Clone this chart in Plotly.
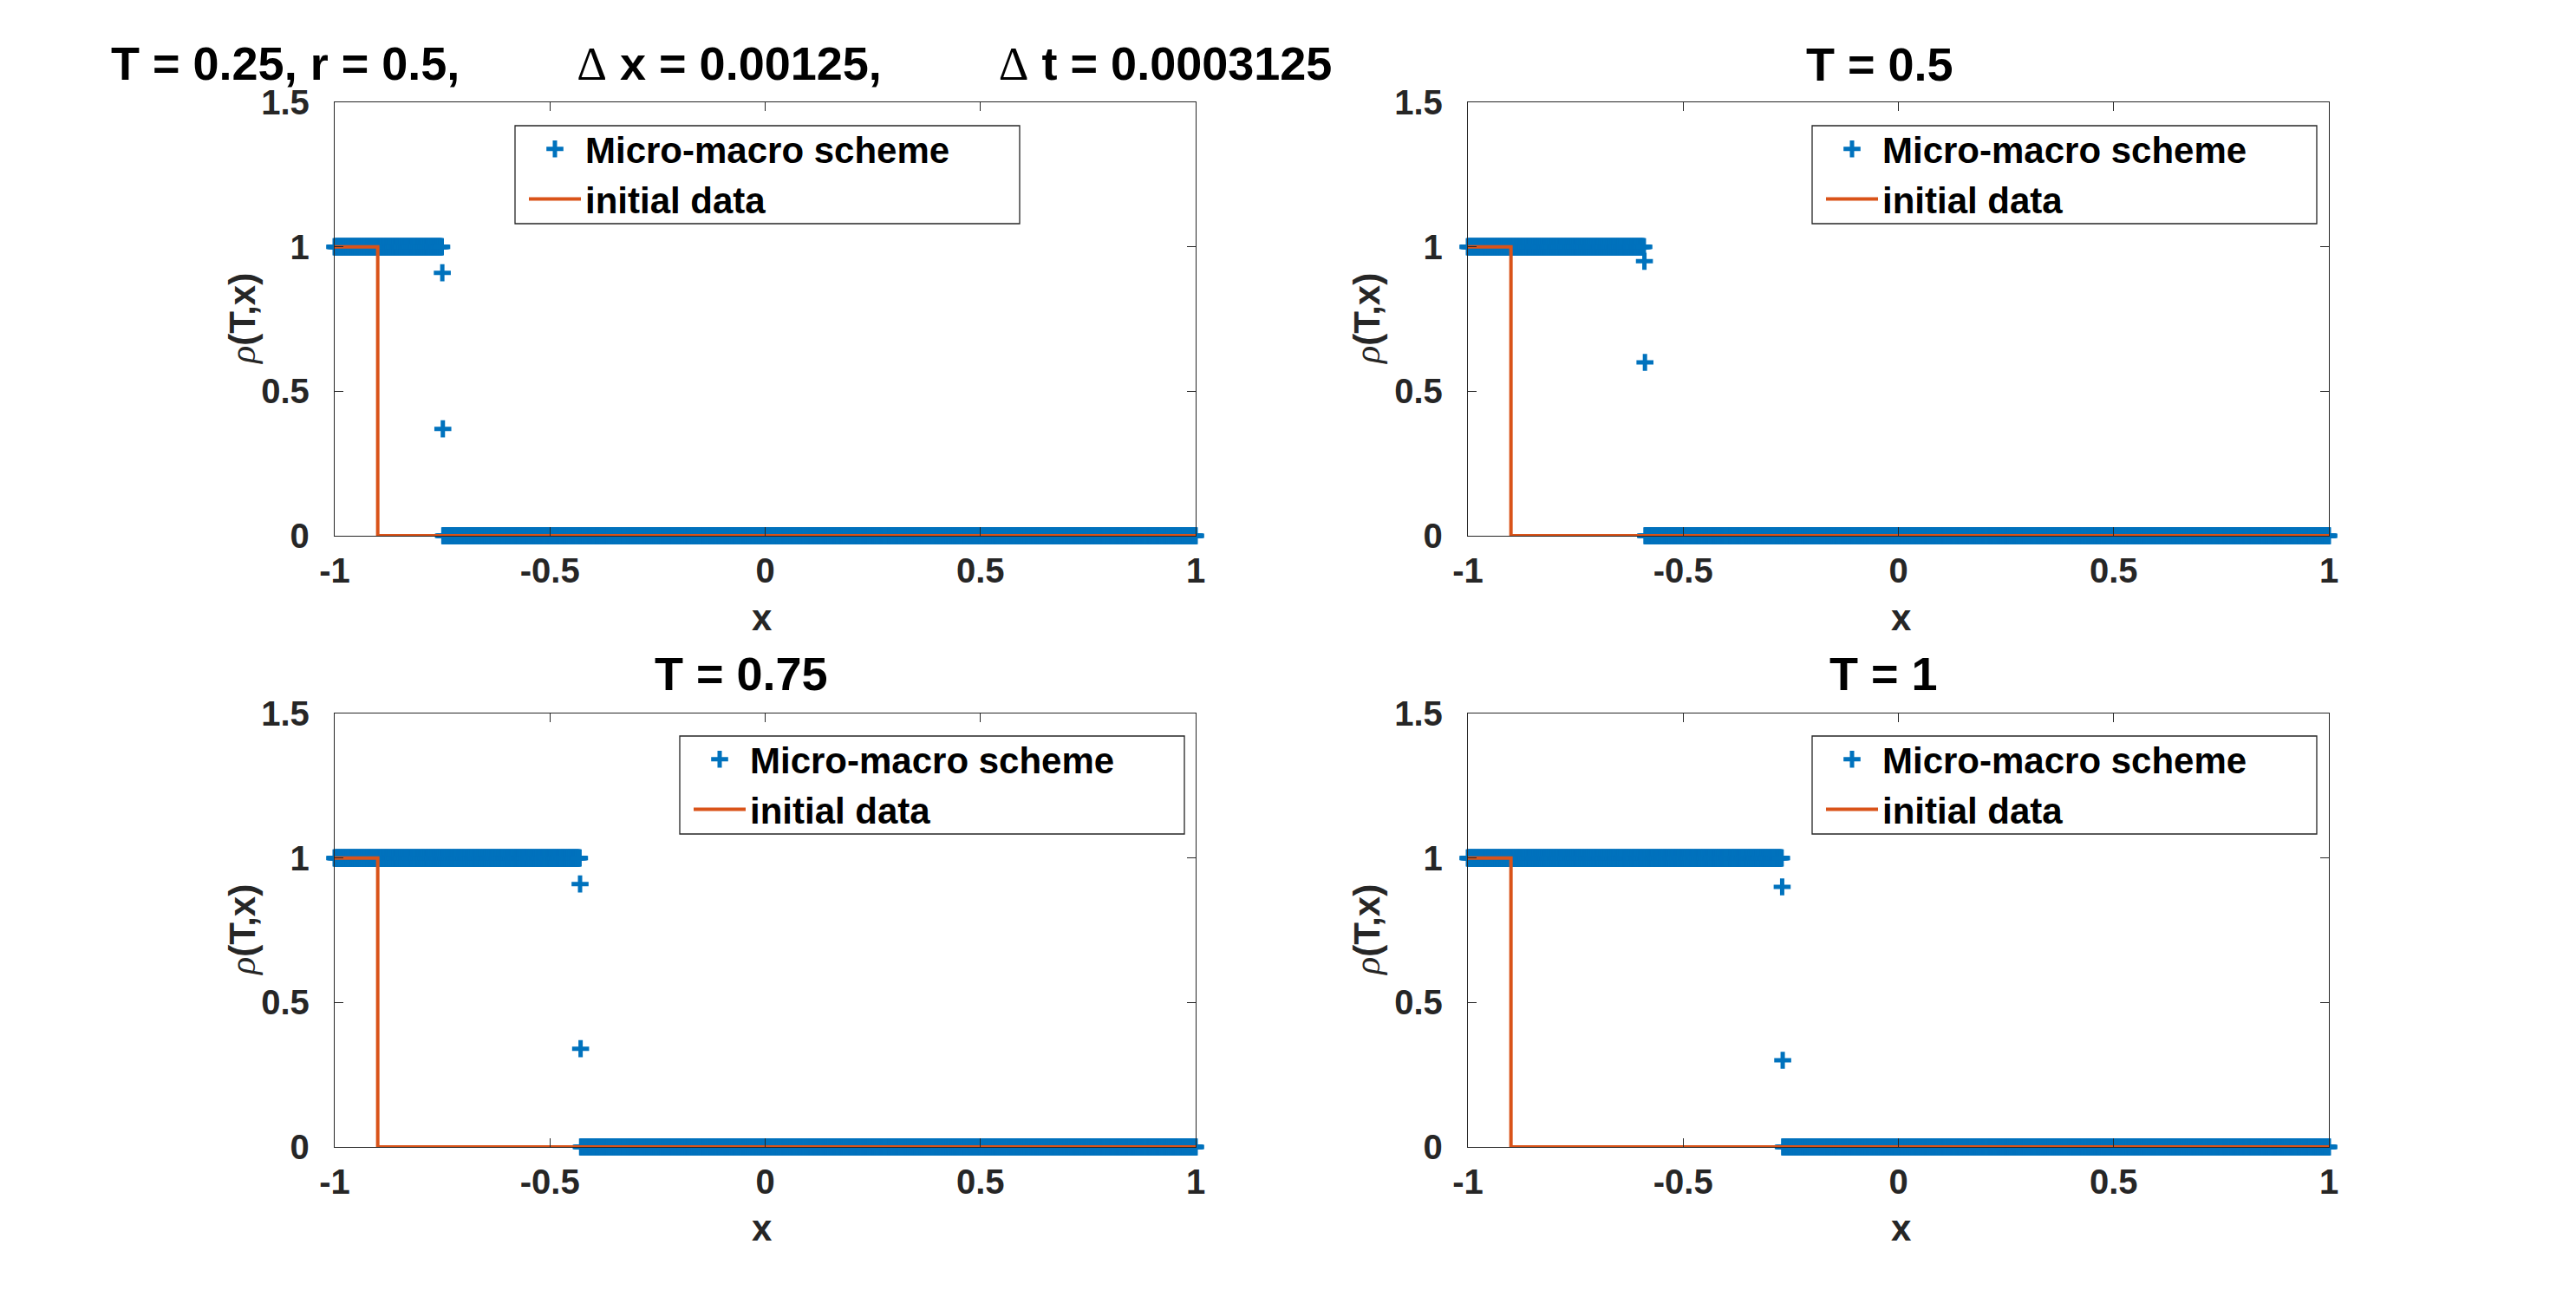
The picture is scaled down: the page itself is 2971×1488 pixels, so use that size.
import numpy as np
import plotly.graph_objects as go

# ---------------- data ----------------
times = [0.25, 0.5, 0.75, 1.0]
titles = ["T = 0.25, r = 0.5,", "T = 0.5", "T = 0.75", "T = 1"]
dx = 0.00125
x_grid = np.round(-1 + dx * np.arange(1601), 6)

# shock location (x where rho drops) at each T
shock_x = [-0.75, -0.59, -0.43, -0.27]
# the two intermediate values right at the shock
shock_vals = [[0.91, 0.37], [0.95, 0.60], [0.91, 0.34], [0.90, 0.30]]

# initial data (step at x = -0.9)
init_x = [-1.0, -0.9, 1.0]
init_rho = [1.0, 0.0, 0.0]

xtick_vals = [-1, -0.5, 0, 0.5, 1]
xtick_text = ["-1", "-0.5", "0", "0.5", "1"]
ytick_vals = [0, 0.5, 1, 1.5]
ytick_text = ["0", "0.5", "1", "1.5"]


def micro_macro(k):
    i0 = int(np.argmin(np.abs(x_grid - shock_x[k])))
    rho = np.where(np.arange(x_grid.size) < i0, 1.0, 0.0)
    rho[i0] = shock_vals[k][0]
    rho[i0 + 1] = shock_vals[k][1]
    return rho


# ---------------- layout geometry (pixels) ----------------
W, H = 2971, 1488
ax_px = [  # (left, right, top, bottom)
    (386, 1379, 118, 618),
    (1693, 2686, 118, 618),
    (386, 1379, 823, 1323),
    (1693, 2686, 823, 1323),
]
legend_box = [  # (left, right, top, bottom)
    (594, 1176, 145, 258),
    (2090, 2672, 145, 258),
    (784, 1366, 849, 962),
    (2090, 2672, 849, 962),
]
title_pos = [(832, 73), (2168, 74), (855, 777), (2172, 777)]
xlabel_pos = [(879, 712), (2193, 712), (879, 1416), (2193, 1416)]
ylabel_pos = [(279, 368), (1576, 368), (279, 1073), (1576, 1073)]

BLUE = "#0072BD"
ORANGE = "#D95319"
AXC = "#262626"
FONT = "Liberation Sans"

fig = go.Figure()
layout = dict(
    template="none",
    width=W, height=H, margin=dict(l=0, r=0, t=0, b=0, pad=0, autoexpand=False),
    paper_bgcolor="white", plot_bgcolor="white", showlegend=True,
    font=dict(family=FONT, color=AXC),
)
annotations = []
shapes = []

for k in range(4):
    sfx = "" if k == 0 else str(k + 1)
    L, R, T, B = ax_px[k]
    leg = "legend" if k == 0 else f"legend{k + 1}"
    fig.add_trace(go.Scatter(
        x=x_grid, y=micro_macro(k), mode="markers", name="Micro-macro scheme",
        xaxis="x" + sfx, yaxis="y" + sfx, legend=leg, cliponaxis=False,
        marker=dict(symbol="cross-thin", size=14, color=BLUE,
                    line=dict(color=BLUE, width=5)),
    ))
    fig.add_trace(go.Scatter(
        x=init_x, y=init_rho, mode="lines", name="initial data",
        xaxis="x" + sfx, yaxis="y" + sfx, legend=leg, line_shape="hv",
        line=dict(color=ORANGE, width=4),
    ))
    common = dict(showgrid=False, zeroline=False, showline=True, linecolor=AXC,
                  linewidth=1.3, mirror="ticks", ticks="inside", ticklen=10,
                  tickwidth=1.3, tickcolor=AXC, automargin=False,
                  tickfont=dict(family=FONT, size=40, color=AXC, weight="bold"))
    layout["xaxis" + sfx] = dict(
        common, domain=[L / W, R / W], range=[-1, 1], anchor="y" + sfx,
        tickmode="array", tickvals=xtick_vals, ticktext=xtick_text,
        ticklabelstandoff=5)
    layout["yaxis" + sfx] = dict(
        common, domain=[1 - B / H, 1 - T / H], range=[0, 1.5], anchor="x" + sfx,
        tickmode="array", tickvals=ytick_vals, ticktext=ytick_text,
        ticklabelstandoff=20)

    bl, br, bt, bb = legend_box[k]
    shapes.append(dict(type="rect", xref="paper", yref="paper",
                       x0=bl / W, x1=br / W, y0=1 - bb / H, y1=1 - bt / H,
                       line=dict(color=AXC, width=1.3), fillcolor="white",
                       layer="above"))
    layout[leg] = dict(x=(bl + 11) / W, y=1 - (bt - 7) / H, xanchor="left",
                       yanchor="top", bgcolor="rgba(0,0,0,0)", borderwidth=0,
                       itemwidth=60,
                       font=dict(family=FONT, size=42, color="black",
                                 weight="bold"))

    # subplot title
    if k == 0:
        sp = "\u00a0"
        ttl = ("T = 0.25, r = 0.5," + sp * 9 +
               "<span style='font-family:Liberation Serif;font-weight:normal'>Δ</span> x = 0.00125,"
               + sp * 9 +
               "<span style='font-family:Liberation Serif;font-weight:normal'>Δ</span> t = 0.0003125")
    else:
        ttl = titles[k]
    tx, ty = title_pos[k]
    annotations.append(dict(text=ttl, x=tx / W, y=1 - ty / H, xref="paper",
                            yref="paper", xanchor="center", yanchor="middle",
                            showarrow=False,
                            font=dict(family=FONT, size=54, color="black",
                                      weight="bold")))
    lx, ly = xlabel_pos[k]
    annotations.append(dict(text="x", x=lx / W, y=1 - ly / H, xref="paper",
                            yref="paper", xanchor="center", yanchor="middle",
                            showarrow=False,
                            font=dict(family=FONT, size=42, color=AXC,
                                      weight="bold")))
    yx, yy = ylabel_pos[k]
    annotations.append(dict(
        text="<span style='font-family:Liberation Serif;font-weight:normal'><i>ρ</i></span>(T,x)",
        x=yx / W, y=1 - yy / H, xref="paper", yref="paper",
        xanchor="center", yanchor="middle", textangle=-90, showarrow=False,
        font=dict(family=FONT, size=42, color=AXC, weight="bold")))

layout["annotations"] = annotations
layout["shapes"] = shapes
fig.update_layout(**layout)
fig.write_html("out.html")
